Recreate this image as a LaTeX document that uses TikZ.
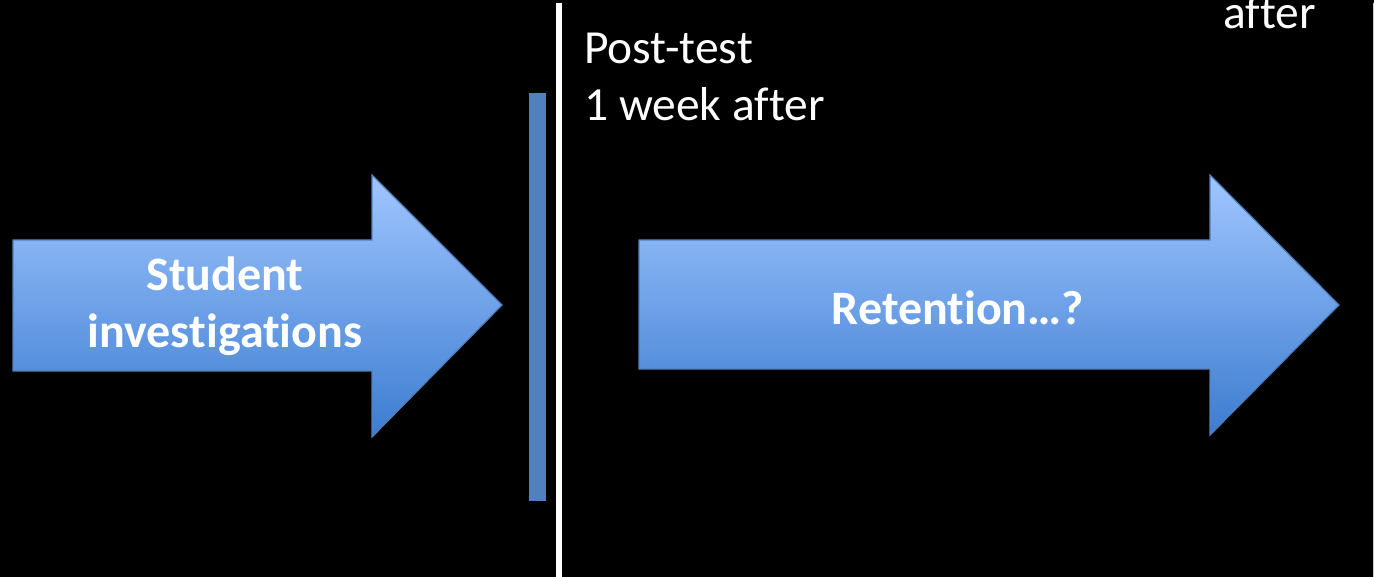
\documentclass[tikz,border=0pt]{standalone}
\usepackage{fontspec}
\setmainfont[Ligatures=NoCommon]{Carlito}
\begin{document}
\begin{tikzpicture}[x=1pt,y=-1pt,
  bigarrow/.style={draw=arrowedge, line width=1.2pt, top color=arrowtop, bottom color=arrowbottom, shading angle=0},
  arrowlabel/.style={text=white, font=\fontsize{48}{57}\selectfont\bfseries, align=center, inner sep=0pt},
  notelabel/.style={text=white, font=\fontsize{47.5}{57}\selectfont, anchor=base west, inner sep=0pt, align=left}]
\definecolor{arrowtop}{RGB}{160,198,255}
\definecolor{arrowbottom}{RGB}{60,124,208}
\definecolor{arrowedge}{RGB}{79,129,189}
\definecolor{barblue}{RGB}{79,129,189}
\useasboundingbox (0,0) rectangle (1374,577);
\fill[black] (0,0) rectangle (1374,577);

% first arrow: the investigation phase
\path[bigarrow] (13,240) -- (372,240) -- (372,175) -- (502,305) -- (372,437) -- (372,371) -- (13,371) -- cycle;
\node[arrowlabel] (investig) at (225,306) {Student\\investigations};

% blue bar marking the post-test
\fill[barblue] (529,93) rectangle (546,501);
\coordinate (bartop) at (537.5,93);

% white divider lines
\coordinate (divtop) at (558.5,3);
\coordinate (divbot) at (558.5,577);
\draw[white, line width=6pt] (divtop) -- (divbot);
\coordinate (edgetop) at (1373.3,3);
\coordinate (edgebot) at (1373.3,577);
\draw[white!80!black, line width=1.4pt] (edgetop) -- (edgebot);

% labels above the timeline
\node[notelabel] (posttest) at (584,64) {Post-test};
\node[notelabel] (weekafter) at (584,121) {1 week after};
\node[notelabel] (after) at (1223,29) {after};

% second arrow: retention period
\path[bigarrow] (639,240) -- (1210,240) -- (1210,175) -- (1339,305) -- (1210,435) -- (1210,369) -- (639,369) -- cycle;
\node[arrowlabel] (retention) at (958,308) {Retention\ldots?};
\end{tikzpicture}
\end{document}
